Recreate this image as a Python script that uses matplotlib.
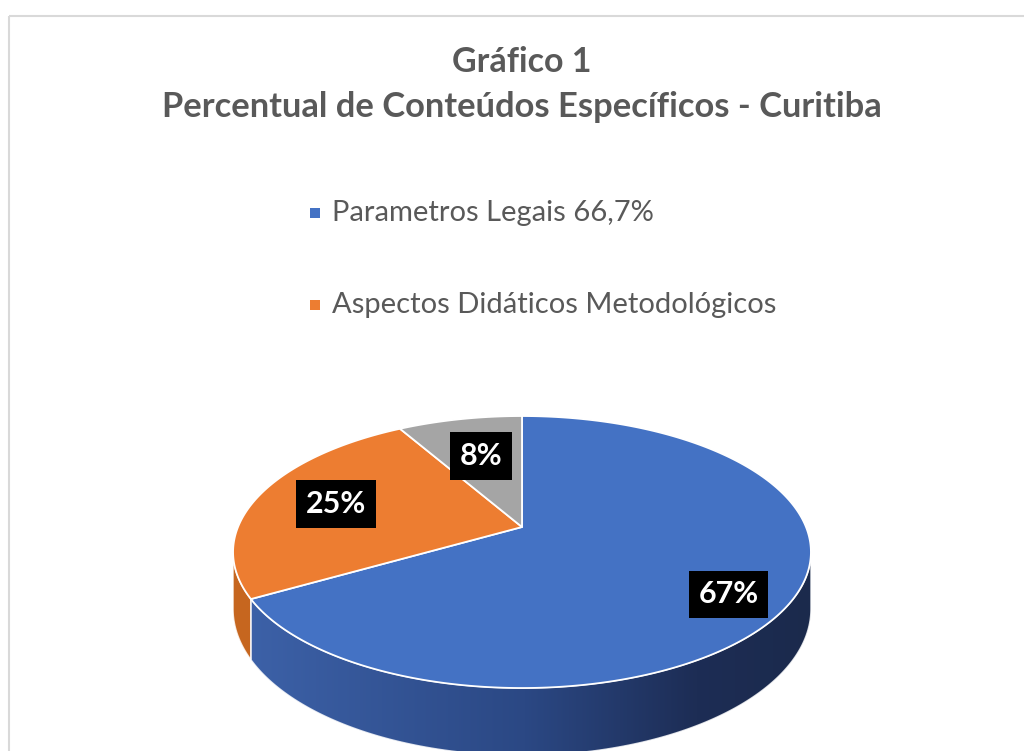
import numpy as np
import matplotlib
matplotlib.use('Agg')
import matplotlib.pyplot as plt
from matplotlib.patches import Polygon, Rectangle
from matplotlib.colors import LinearSegmentedColormap

# ---------------- data ----------------
title_lines = ["Gráfico 1", "Percentual de Conteúdos Específicos - Curitiba"]
categories = ["Parametros Legais 66,7%", "Aspectos Didáticos Metodológicos", "Outros"]
values = [66.7, 25.0, 8.3]
labels = ["67%", "25%", "8%"]
colors = ["#4472C4", "#ED7D31", "#A5A5A5"]
legend_shown = 2

# ---------------- figure ----------------
W, H = 1024, 751
fig = plt.figure(figsize=(W / 100, H / 100), dpi=100)
ax = fig.add_axes([0, 0, 1, 1])
ax.set_xlim(0, W)
ax.set_ylim(H, 0)
ax.axis('off')

FONT = ['Lato', 'DejaVu Sans']
TXT = '#595959'

# border of chart area
ax.plot([9, 9], [H + 5, 16], color='#d9d9d9', lw=1.5, solid_capstyle='butt')
ax.plot([9, W + 5], [16, 16], color='#d9d9d9', lw=1.5, solid_capstyle='butt')

# title
ax.text(522, 62, title_lines[0], ha='center', va='center', fontsize=24.5,
        fontweight='bold', color=TXT, family=FONT)
ax.text(522, 107, title_lines[1], ha='center', va='center', fontsize=24.8,
        fontweight='bold', color=TXT, family=FONT)

# legend
leg_y = [213, 305]
for i in range(legend_shown):
    ax.add_patch(Rectangle((310, leg_y[i] - 5), 10, 10, color=colors[i], lw=0))
    ax.text(332, leg_y[i], categories[i], ha='left', va='center', fontsize=21,
            color=TXT, family=FONT)

# ---------------- 3D pie geometry ----------------
cx, cy = 522, 527
A, B = 284, 131.4
K = 0.184
DEPTH = 55


def proj(t, z=0.0, r=1.0):
    u, v = r * np.cos(t), r * np.sin(t)
    d = 1 + K * v
    return cx + A * u / d, cy + (-B * v + DEPTH * z) / d


vals = np.array(values, dtype=float)
cum = np.concatenate([[0], np.cumsum(vals)]) / vals.sum()
t_hi = 90 - 360 * cum[:-1]   # start angle (deg)
t_lo = 90 - 360 * cum[1:]    # end angle (deg)

vis_lo = 180 + np.degrees(np.arcsin(K))
vis_hi = 360 - np.degrees(np.arcsin(K))

wall_cmap = LinearSegmentedColormap.from_list(
    'wall', [(0, '#3d62a9'), (0.5, '#2b4884'), (0.8, '#1d2d55'), (1, '#1b2a4c')])
wall_solid = ['#1b2a4c', '#c6661f', '#7f7f7f']

# walls
for i in range(len(vals)):
    lo, hi = t_lo[i], t_hi[i]
    for shift in (-360, 0, 360):
        a, b = max(lo + shift, vis_lo), min(hi + shift, vis_hi)
        if b <= a:
            continue
        ts = np.radians(np.linspace(a, b, 200))
        xt, yt = proj(ts, 0)
        xb, yb = proj(ts, 1)
        pts = np.column_stack([np.concatenate([xt, xb[::-1]]),
                               np.concatenate([yt, yb[::-1]])])
        if i == 0:
            poly = Polygon(pts, closed=True, fc='none', ec='none')
            ax.add_patch(poly)
            y0, y1 = pts[:, 1].min(), pts[:, 1].max()
            grad = np.linspace(0, 1, 256)[None, :]
            im = ax.imshow(grad, cmap=wall_cmap, extent=[cx - A, cx + A * 1.02, y1, y0],
                           aspect='auto', zorder=1, interpolation='bilinear')
            im.set_clip_path(poly)
        else:
            ax.add_patch(Polygon(pts, closed=True, fc=wall_solid[i], ec='none', zorder=1))
        ax.add_patch(Polygon(pts, closed=True, fc='none', ec='white', lw=1.0,
                             alpha=0.8, zorder=2))

# top faces
for i in range(len(vals)):
    ts = np.radians(np.linspace(t_hi[i], t_lo[i], 300))
    xs, ys = proj(ts, 0)
    pts = np.column_stack([np.concatenate([[cx], xs]), np.concatenate([[cy], ys])])
    ax.add_patch(Polygon(pts, closed=True, fc=colors[i], ec='white', lw=1.3, zorder=3,
                         joinstyle='round'))

# data labels
label_r = [0.78, 0.70, 0.62]
label_dy = [12, 0, 0]
for i in range(len(vals)):
    mid = np.radians((t_hi[i] + t_lo[i]) / 2)
    lx, ly = proj(mid, 0, label_r[i])
    ax.text(lx, ly + label_dy[i], labels[i], ha='center', va='center', fontsize=22,
            fontweight='bold', color='white', family=FONT, zorder=5,
            bbox=dict(boxstyle='square,pad=0.32', fc='black', ec='none'))

fig.savefig('out.png', dpi=100)
